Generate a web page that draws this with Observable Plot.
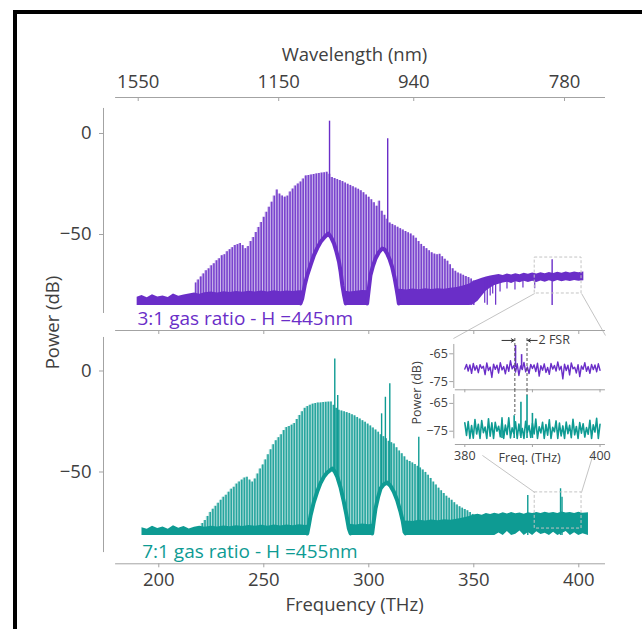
<!DOCTYPE html>
<html><head><meta charset="utf-8">
<script src="https://cdn.jsdelivr.net/npm/d3@7"></script>
<script src="https://cdn.jsdelivr.net/npm/@observablehq/plot@0.6"></script>
<style>
html,body{margin:0;padding:0;background:#fff;}
#fig{position:relative;width:642px;height:629px;overflow:hidden;background:#fff;}
#fig svg{position:absolute;overflow:visible;background:transparent;}
.border{position:absolute;background:#000;}
</style></head><body><div id="fig"></div>
<script>
// ---------- data ----------
const freqTicks = [200, 250, 300, 350, 400];
const powerTicks = [0, -50];
const wlLabels = ["1550", "1150", "940", "780"];
const wlTickFreq = [190.2, 257.1, 321.4, 393.2];

const combSpacing = 1.25;
const combTopStart = 217.5;
const combTopPower = [
 -74,-72.5,-71,-69.5,-68,-67,-65.5,-64.5,-63,-62,
 -60.5,-60,-58.5,-57.5,-56.5,-55.5,-55,-54.5,-55.5,-57,
 -56,-53.5,-51.5,-49,-46.5,-44,-41.5,-39,-36.5,-34,
 -31,-28,-30,-31,-31.5,-31,-29,-27.5,-26,-25,
 -24,-22.5,-21,-20.8,-20.5,-20.3,-20,-19.8,-19.6,-19.4,
 -19.2,-20.2,-21.8,-22.3,-22.8,-23.3,-23.8,-24.5,-25.1,-25.7,
 -26.3,-27,-27.6,-28.4,-29.3,-30.4,-31.6,-32.8,-34.3,-36,
 -33.5,-38.5,-40.5,-42.5,-44.3,-45,-45.7,-46.4,-47.1,-47.8,
 -48.5,-49.1,-49.7,-50.7,-51.8,-53.5,-54.9,-56,-57,-58,
 -59,-59.7,-60,-59.8,-61,-62.2,-63.2,-65,-67,-68.2,
 -69,-69.6,-70.2,-70.8,-71.3,-72,-73];
const combBotStart = 219.5;
const combBotPower = [
 -78,-75.5,-74,-72,-70,-68.5,-67,-65.5,-64,-62.5,
 -61.5,-60,-58.5,-57.5,-56,-55,-54,-53,-52.6,-54,
 -55,-53.5,-51,-48.5,-46.5,-44,-41.5,-39,-36.5,-34.5,
 -33,-31.5,-29.5,-28,-27.5,-26.8,-26,-24,-22,-20.2,
 -18.5,-17.6,-17,-16.4,-16.1,-15.9,-15.8,-15.6,-15.5,-15.4,
 -15.4,-17,-18.5,-19.4,-19.8,-20.2,-20.6,-21,-21.6,-22.2,
 -23,-23.8,-24.6,-25.4,-26.3,-27.2,-28.2,-29.2,-30.3,-31.5,
 -32.5,-33.6,-34.8,-35.5,-36.2,-38,-39.6,-41,-42.5,-44.2,
 -44.8,-45.5,-46.3,-47.2,-48,-49,-50.2,-51.6,-53.2,-55,
 -56.5,-58,-59.3,-60.7,-62,-63,-64,-65.2,-66.4,-67.2,
 -67.9,-68.6,-69.2,-70,-71];

const spikeTopFreq = [281.3, 309.0, 387.3];
const spikeTopPower = [6.1, -2.6, -62.5];
const spikeBotFreq = [283.8, 285.2, 306.1, 307.9, 310.0, 323.8, 375.7, 391.3, 392.0];
const spikeBotPower = [6, -12.1, -21.2, -13, -6.3, -32.8, -61.6, -58.3, -62.5];

const noiseTopFreq = [189.7,192,194.5,197,199.5,202,204.5,207,209.5,212,214.5,217,219.5,222,225,228,231,234,237,240,243,246,249,252,255,258,261,264,267,270,273,276,279,282,285,288,291,294,297,300,303,306,309,312,315,318,321,324,327,330,333,336,339,342,345,348,350,352,354,356,358,360,362,364,366,368,370,372,374,376,378,380,382,384,386,388,390,392,394,396,398,400,402.4];
const noiseTopHigh = [
 -81.0,-80.2,-81.3,-79.8,-80.9,-80.4,-81.2,-79.5,-80.6,-80.0,
 -79.4,-78.9,-79.6,-78.8,-78.5,-78.9,-78.3,-78.7,-78.2,-78.6,
 -78.1,-78.5,-78.0,-78.4,-77.9,-78.3,-78.0,-78.2,-77.8,-78.1,
 -77.9,-78.2,-77.8,-78.0,-78.3,-77.9,-78.4,-78.1,-77.7,-77.9,
 -77.5,-77.8,-77.3,-77.6,-77.1,-77.5,-77.0,-77.4,-76.9,-77.2,
 -76.8,-77.1,-76.6,-76.2,-75.5,-74.5,-73.2,-72.4,-71.6,-71.0,
 -70.6,-70.2,-69.8,-70.3,-69.5,-70.0,-69.4,-69.9,-69.2,-69.7,
 -69.1,-69.6,-68.9,-69.4,-68.8,-69.3,-68.7,-69.2,-68.6,-69.0,
 -68.5,-68.9,-68.6];
const noiseTopLow = [
 -85.1,-85.1,-85.1,-85.1,-85.1,-85.1,-85.1,-85.1,-85.1,-85.1,
 -85.1,-85.1,-85.1,-85.1,-85.1,-85.1,-85.1,-85.1,-85.1,-85.1,
 -85.1,-85.1,-85.1,-85.1,-85.1,-85.1,-85.1,-85.1,-85.1,-85.1,
 -85.1,-85.1,-85.1,-85.1,-85.1,-85.1,-85.1,-85.1,-85.1,-85.1,
 -85.1,-85.1,-85.1,-85.1,-85.1,-85.1,-85.1,-85.1,-85.1,-85.1,
 -85.1,-85.1,-85.1,-85.1,-85.1,-85.1,-84.5,-83.0,-80.5,-78.0,
 -76.5,-75.2,-74.6,-74.0,-73.6,-74.2,-73.4,-73.9,-73.2,-73.8,
 -73.1,-73.7,-73.0,-73.6,-72.9,-73.5,-72.8,-73.4,-72.9,-73.3,
 -72.8,-73.2,-72.9];
const dipTopFreq = [355.2, 356.4, 357.8, 359.0, 360.4, 362.5, 365.8, 369.6, 373.4, 379.0];
const dipTopLow = [-84, -85, -80.5, -79.5, -85, -78.5, -77, -77.5, -76.5, -76.8];

const noiseBotFreq = [192,194.5,197,199.5,202,204.5,207,209.5,212,214.5,217,219.5,222,225,228,231,234,237,240,243,246,249,252,255,258,261,264,267,270,273,276,279,282,285,288,291,294,297,300,303,306,309,312,315,318,321,324,327,330,333,336,339,342,345,348,350,352,354,356,358,360,362,364,366,368,370,372,374,376,378,380,382,384,386,388,390,392,394,396,398,400,402,404.6];
const noiseBotHigh = [
 -77.6,-78.3,-76.9,-78.0,-77.2,-78.4,-76.6,-77.9,-77.0,-78.2,
 -77.4,-76.8,-77.3,-76.9,-77.2,-76.7,-77.1,-76.6,-77.0,-76.5,
 -76.9,-76.4,-76.8,-76.3,-76.7,-76.2,-76.6,-76.1,-76.5,-76.0,
 -76.4,-76.1,-76.5,-76.0,-76.3,-75.9,-76.2,-75.8,-76.1,-75.7,
 -75.9,-75.4,-75.0,-74.6,-74.2,-74.5,-73.9,-74.3,-73.8,-74.1,
 -73.6,-73.9,-73.4,-72.8,-72.0,-71.3,-70.9,-71.4,-70.6,-71.1,
 -70.4,-70.9,-70.2,-70.8,-70.1,-70.7,-70.3,-70.9,-70.2,-70.6,
 -70.0,-70.5,-69.9,-70.4,-70.1,-70.6,-69.8,-70.3,-70.0,-70.5,
 -69.9,-70.4,-70.2];
const noiseBotLow = [
 -81.4,-81.4,-81.4,-81.4,-81.4,-81.4,-81.4,-81.4,-81.4,-81.4,
 -81.4,-81.4,-81.4,-81.4,-81.4,-81.4,-81.4,-81.4,-81.4,-81.4,
 -81.4,-81.4,-81.4,-81.4,-81.4,-81.4,-81.4,-81.4,-81.4,-81.4,
 -81.4,-81.4,-81.4,-81.4,-81.4,-81.4,-81.4,-81.4,-81.4,-81.4,
 -81.4,-81.4,-81.4,-81.4,-81.4,-81.4,-81.4,-81.4,-81.4,-81.4,
 -81.4,-81.4,-81.4,-81.4,-81.4,-81.4,-81.4,-81.4,-81.4,-81.4,
 -81.4,-80.2,-81.4,-79.5,-81.4,-80.8,-79.2,-81.4,-80.0,-81.4,
 -79.6,-81.0,-80.3,-81.4,-79.8,-81.4,-80.5,-79.4,-81.4,-80.1,
 -81.4,-80.6,-81.4];

const archTopId = ["a","a","a","a","a","a","a","a","a","a","a","a","a","a","a","a","a","a","b","b","b","b","b","b","b","b","b","b","b","b","b","b","b"];
const archTopFreq = [267.5,268.3,269.5,270.7,272.3,273.9,275.5,277.1,279,280.7,282,283.4,284.6,285.8,286.6,287.4,288.2,289, 299.2,300.0,300.8,302,303.2,304.8,306.4,307.6,308.7,310,311.1,312.2,313.2,313.8,314.3];
const archTopPower = [-85.1,-82.7,-76,-71.1,-66,-61.2,-57.6,-54.6,-52.2,-50.5,-52.3,-55.4,-59.5,-64.5,-69.5,-76.1,-81,-85.1, -85.1,-78,-71.1,-66.5,-62.9,-59.8,-57.9,-58.5,-60.4,-63.5,-67.0,-72,-77.8,-81.5,-85.1];
const archBotId = ["a","a","a","a","a","a","a","a","a","a","a","a","a","a","a","a","a","b","b","b","b","b","b","b","b","b","b","b","b","b","b"];
const archBotFreq = [270.7,271.5,272.3,273.8,275.4,277,278.6,280,281,282.6,283.8,285,286.5,288.1,289.3,290.5,291.3, 301.6,302.4,303.2,304.4,305.6,307.1,308.7,310.3,311.9,313.5,315.1,316.1,317,317.5];
const archBotPower = [-81.4,-77,-72.4,-66,-60.8,-56.5,-53.4,-51.5,-50.6,-49.3,-50.8,-53.4,-58.5,-65.8,-72,-79,-81.4, -81.4,-75,-69.1,-63.5,-59.2,-57.2,-56.2,-57.8,-60.8,-65,-70.7,-75,-80.6,-81.4];

const zoomBoxFreq = [379, 401.3];
const zoomBoxTopPower = [-79.2, -61.4];
const zoomBoxBotPower = [-78.0, -60.1];

// inset
const insetStart = 380, insetStep = 0.25;
const insetTopPower = [
 -70.5,-68.8,-71.2,-69.0,-72.0,-68.5,-70.9,-69.3,-71.8,-68.9,
 -70.2,-69.5,-72.5,-68.3,-71.0,-69.8,-73.5,-68.7,-70.6,-69.1,
 -71.9,-68.2,-70.8,-69.6,-72.2,-68.9,-71.3,-67.5,-70.4,-69.2,
 -71.6,-68.6,-72.8,-69.4,-70.7,-68.1,-71.5,-69.7,-72.1,-68.8,
 -70.3,-69.0,-71.4,-68.4,-73.0,-69.3,-70.9,-68.6,-71.7,-69.9,
 -72.4,-68.5,-70.5,-69.2,-71.2,-67.9,-70.8,-69.5,-74.0,-68.7,
 -71.0,-69.1,-72.6,-68.3,-70.4,-69.8,-71.9,-68.9,-73.2,-69.4,
 -70.6,-68.2,-71.3,-69.6,-72.0,-68.8,-70.7,-69.0,-71.5,-68.6,-70.9];
const insetBotPower = [
 -72.0,-76.5,-71.5,-77.6,-73.0,-77.5,-70.8,-76.0,-72.5,-77.6,
 -71.2,-75.5,-73.5,-77.6,-70.5,-76.8,-72.0,-77.6,-71.8,-75.0,
 -73.2,-77.0,-71.0,-77.6,-72.8,-76.2,-70.2,-77.4,-73.8,-75.8,
 -71.6,-77.6,-72.4,-76.6,-74.0,-77.6,-71.4,-75.4,-73.0,-77.2,
 -72.2,-76.0,-70.6,-77.6,-73.4,-75.6,-71.8,-77.6,-72.6,-76.4,
 -70.9,-77.6,-73.6,-75.2,-71.3,-77.6,-72.1,-76.7,-73.1,-77.6,
 -71.7,-75.9,-72.9,-77.3,-70.7,-76.3,-73.3,-77.6,-71.9,-75.7,
 -72.3,-77.1,-73.7,-76.1,-71.1,-77.6,-72.7,-75.3,-70.4,-77.6,-72.5];
const insetTopSpikeFreq = [387.5, 388.4];
const insetTopSpikePower = [-62.0, -65.3];
const insetBotSpikeFreq = [385.5, 387.3, 388.3, 389.2, 390.0];
const insetBotSpikePower = [-70.2, -69.4, -64.6, -62.2, -68.6];
const fsrLineFreq = [387.4, 389.2];
const fsrLineBotEnd = [-69.4, -62.2];
const insetTicks = [380, 390, 400];
const insetPowerTicks = [-65, -75];

// ---------- style ----------
const PURPLE = "#6a2ec8", TEAL = "#0e9b93";
const AXIS = "#a3a3a3", TEXT = "#404040", LIGHT = "#c4c4c4";
const FONT = '"Open Sans", sans-serif';
const FS = "18.5px";

const fig = document.getElementById("fig");
function place(el, left, topPx) { el.style.left = left + "px"; el.style.top = topPx + "px"; fig.appendChild(el); }

const xDomain = [173.67, 412.71];
const xAxisSpan = [179.43, 412.71];
const fmtPow = d => d === 0 ? "0" : "\u2212" + Math.abs(d);

const comb = (start, arr) => arr.map((p, i) => ({f: start + i * combSpacing, p}));
const zipFP = (F, P) => F.map((f, i) => ({f, p: P[i]}));
const noise = (F, L, H) => F.map((f, i) => ({f, lo: L[i], hi: H[i]}));
const arch = (I, F, P) => F.map((f, i) => ({id: I[i], f, p: P[i]}));

function spectrumMarks(color, combData, spikes, noiseData, archData, floor) {
  return [
    Plot.areaY(combData, {x: "f", y1: floor, y2: "p", fill: color, fillOpacity: 0.32, curve: "step"}),
    Plot.ruleX(combData, {x: "f", y1: floor, y2: "p", stroke: color, strokeWidth: 1.6, strokeOpacity: 0.85}),
    Plot.ruleX(spikes, {x: "f", y1: floor, y2: "p", stroke: color, strokeWidth: 1.4}),
    Plot.areaY(noiseData, {x: "f", y1: "lo", y2: "hi", fill: color}),
    Plot.areaY(archData, {x: "f", y1: floor - 1, y2: "p", z: "id", fill: "white"}),
    Plot.line(archData, {x: "f", y: "p", z: "id", stroke: color, strokeWidth: 4, dy: -2})
  ];
}

// ---------- top panel ----------
const yTop = [-97.52, 17.82];
const topPlot = Plot.plot({
  width: 642, height: 345, marginLeft: 103, marginRight: 37, marginTop: 97, marginBottom: 15,
  x: {domain: xDomain}, y: {domain: yTop},
  style: {fontFamily: FONT, fontSize: FS, color: TEXT, overflow: "visible"},
  marks: [
    ...spectrumMarks(PURPLE, comb(combTopStart, combTopPower), zipFP(spikeTopFreq, spikeTopPower),
      noise(noiseTopFreq, noiseTopLow, noiseTopHigh), arch(archTopId, archTopFreq, archTopPower), -85.1),
    Plot.ruleX(zipFP(dipTopFreq, dipTopLow), {x: "f", y1: "p", y2: -72, stroke: PURPLE, strokeWidth: 1.2}),
    Plot.rect([0], {x1: zoomBoxFreq[0], x2: zoomBoxFreq[1], y1: zoomBoxTopPower[0], y2: zoomBoxTopPower[1], fill: "none", stroke: LIGHT, strokeDasharray: "3,2"}),
    Plot.link([{x1: zoomBoxFreq[0], y1: zoomBoxTopPower[0], x2: 340.3, y2: -101.5}, {x1: zoomBoxFreq[1], y1: zoomBoxTopPower[0], x2: 412.7, y2: -100}],
      {x1: "x1", y1: "y1", x2: "x2", y2: "y2", stroke: LIGHT}),
    Plot.ruleY([yTop[0]], {x1: xAxisSpan[0], x2: xAxisSpan[1], stroke: AXIS}),
    Plot.axisX({ticks: freqTicks, tickSize: 4, tickFormat: () => "", label: null, stroke: AXIS}),
    Plot.ruleY([yTop[1]], {x1: xAxisSpan[0], x2: xAxisSpan[1], stroke: AXIS}),
    Plot.axisX({anchor: "top", ticks: wlTickFreq, tickSize: 0, tickPadding: 10, label: null, fill: TEXT,
      tickFormat: d => wlLabels[wlTickFreq.indexOf(d)]}),
    Plot.axisX({anchor: "top", ticks: wlTickFreq, tickSize: 3, dy: 3, tickFormat: () => "", label: null, stroke: AXIS}),
    Plot.text(["Wavelength (nm)"], {frameAnchor: "top", dy: -42, lineAnchor: "middle", fill: TEXT}),
    Plot.ruleX([xDomain[0]], {y1: 12.4, y2: -89.1, stroke: AXIS}),
    Plot.axisY({ticks: powerTicks, tickSize: 4, tickPadding: 8, tickFormat: fmtPow, label: null, stroke: AXIS, fill: TEXT}),
    Plot.text(["3:1 gas ratio - H =445nm"], {frameAnchor: "bottom-left", dx: 34, dy: -12, textAnchor: "start", lineAnchor: "middle", fill: PURPLE, fontSize: 19}),
    Plot.text(["Power (dB)"], {frameAnchor: "bottom-left", rotate: -90, dx: -50, dy: -8, textAnchor: "middle", lineAnchor: "middle", fill: TEXT})
  ]
});
place(topPlot, 0, 0);

// ---------- bottom panel ----------
const yBot = [-95.45, 20.05];
const botPlot = Plot.plot({
  width: 642, height: 299, marginLeft: 103, marginRight: 37, marginTop: 0, marginBottom: 65.7,
  x: {domain: xDomain}, y: {domain: yBot},
  style: {fontFamily: FONT, fontSize: FS, color: TEXT, overflow: "visible"},
  marks: [
    ...spectrumMarks(TEAL, comb(combBotStart, combBotPower), zipFP(spikeBotFreq, spikeBotPower),
      noise(noiseBotFreq, noiseBotLow, noiseBotHigh), arch(archBotId, archBotFreq, archBotPower), -81.4),
    Plot.rect([0], {x1: zoomBoxFreq[0], x2: zoomBoxFreq[1], y1: zoomBoxBotPower[0], y2: zoomBoxBotPower[1], fill: "none", stroke: LIGHT, strokeDasharray: "3,2"}),
    Plot.link([{x1: zoomBoxFreq[0], y1: zoomBoxBotPower[1], x2: 354.1, y2: -41.8}, {x1: zoomBoxFreq[1], y1: zoomBoxBotPower[1], x2: 407.0, y2: -40.8}],
      {x1: "x1", y1: "y1", x2: "x2", y2: "y2", stroke: LIGHT}),
    Plot.ruleY([yBot[0]], {x1: xAxisSpan[0], x2: xAxisSpan[1], stroke: AXIS}),
    Plot.axisX({ticks: freqTicks, tickSize: 4, tickPadding: 5, tickFormat: d => String(d), label: null, stroke: AXIS, fill: TEXT}),
    Plot.text(["Frequency (THz)"], {frameAnchor: "bottom", dy: 41, lineAnchor: "middle", fill: TEXT}),
    Plot.ruleX([xDomain[0]], {y1: 16.6, y2: -89.9, stroke: AXIS}),
    Plot.axisY({ticks: powerTicks, tickSize: 4, tickPadding: 8, tickFormat: fmtPow, label: null, stroke: AXIS, fill: TEXT}),
    Plot.text(["7:1 gas ratio - H =455nm"], {frameAnchor: "bottom-left", dx: 38.7, dy: -11.6, textAnchor: "start", lineAnchor: "middle", fill: TEAL, fontSize: 19})
  ]
});
place(botPlot, 0, 330);

// ---------- inset ----------
const ixDomain = [378.37, 400.81];
const ixSpan = [378.6, 400.8];
const insetSeries = arr => arr.map((p, i) => ({f: insetStart + i * insetStep, p}));
const iyTop = [-77.95, -56.62];
const insTop = Plot.plot({
  width: 220, height: 70, marginLeft: 53.3, marginRight: 15, marginTop: 0, marginBottom: 10.7,
  x: {domain: ixDomain}, y: {domain: iyTop},
  style: {fontFamily: FONT, fontSize: "12.5px", color: TEXT, overflow: "visible"},
  marks: [
    Plot.line(insetSeries(insetTopPower), {x: "f", y: "p", stroke: PURPLE, strokeWidth: 1.4}),
    Plot.ruleX(zipFP(insetTopSpikeFreq, insetTopSpikePower), {x: "f", y1: -70, y2: "p", stroke: PURPLE, strokeWidth: 1.6}),
    Plot.ruleX(fsrLineFreq, {x: d => d, y1: -59.5, y2: iyTop[0], stroke: "#555", strokeDasharray: "3,2"}),
    Plot.arrow([{x1: 385.5, x2: 387.3}, {x1: 390.7, x2: 389.3}], {x1: "x1", x2: "x2", y1: -60.2, y2: -60.2, stroke: "#333", headLength: 5, strokeWidth: 1}),
    Plot.text(["2 FSR"], {x: 390.9, y: -60.2, textAnchor: "start", lineAnchor: "middle", fill: TEXT}),
    Plot.ruleY([iyTop[0]], {x1: ixSpan[0], x2: ixSpan[1], stroke: AXIS}),
    Plot.axisX({ticks: insetTicks, tickSize: 3, tickFormat: () => "", label: null, stroke: AXIS}),
    Plot.ruleX([ixDomain[0]], {y1: -61.65, y2: -77.48, stroke: AXIS}),
    Plot.axisY({ticks: insetPowerTicks, tickSize: 4, tickPadding: 2, tickFormat: d => "-" + Math.abs(d), label: null, stroke: AXIS, fill: TEXT}),
    Plot.text(["Power (dB)"], {frameAnchor: "left", rotate: -90, dx: -36.6, dy: 32.85, textAnchor: "middle", lineAnchor: "middle", fill: TEXT})
  ]
});
place(insTop, 400, 330);

const iyBot = [-79.78, -60.0];
const insBot = Plot.plot({
  width: 220, height: 81, marginLeft: 53.3, marginRight: 15, marginTop: 0, marginBottom: 26,
  x: {domain: ixDomain}, y: {domain: iyBot},
  style: {fontFamily: FONT, fontSize: "12.5px", color: TEXT, overflow: "visible"},
  marks: [
    Plot.line(insetSeries(insetBotPower), {x: "f", y: "p", stroke: TEAL, strokeWidth: 1.6}),
    Plot.ruleX(zipFP(insetBotSpikeFreq, insetBotSpikePower), {x: "f", y1: -77.6, y2: "p", stroke: TEAL, strokeWidth: 1.6}),
    Plot.ruleX(zipFP(fsrLineFreq, fsrLineBotEnd), {x: "f", y1: iyBot[1], y2: "p", stroke: "#555", strokeDasharray: "3,2"}),
    Plot.ruleY([iyBot[0]], {x1: ixSpan[0], x2: ixSpan[1], stroke: AXIS}),
    Plot.axisX({ticks: insetTicks, tickSize: 3, tickPadding: 4, tickFormat: d => d === 390 ? "" : String(d), label: null, stroke: AXIS, fill: TEXT}),
    Plot.text(["Freq. (THz)"], {frameAnchor: "bottom", dy: 13, lineAnchor: "middle", fill: TEXT}),
    Plot.ruleX([ixDomain[0]], {y1: -61.8, y2: -77.73, stroke: AXIS}),
    Plot.axisY({ticks: insetPowerTicks, tickSize: 4, tickPadding: 2, tickFormat: d => d === -65 ? "-65" : "\u221275", label: null, stroke: AXIS, fill: TEXT})
  ]
});
place(insBot, 400, 389);

// frame border
for (const [l, t, w, h] of [[13, 10, 4, 619], [13, 10, 629, 4]]) {
  const d = document.createElement("div");
  d.className = "border";
  Object.assign(d.style, {left: l + "px", top: t + "px", width: w + "px", height: h + "px"});
  fig.appendChild(d);
}
</script></body></html>
